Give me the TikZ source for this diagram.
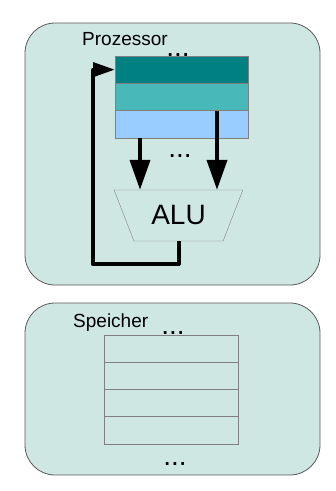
\documentclass[tikz,border=0pt]{standalone}
\usepackage{fontspec}
\setmainfont{Liberation Sans}
\usetikzlibrary{positioning,shapes.geometric,arrows.meta}
\definecolor{boxbg}{HTML}{CFE7E3}
\definecolor{regA}{HTML}{008080}
\definecolor{regB}{HTML}{48B8B8}
\definecolor{regC}{HTML}{99CCFF}
\begin{document}
\begin{tikzpicture}[x=1pt,y=-1pt,
		unit/.style={draw=gray!70!black, fill=boxbg, rounded corners=30pt, line width=0.8pt},
		cell/.style={draw=gray, minimum width=133pt, minimum height=27.3pt, inner sep=0pt, outer sep=0pt, line width=0.8pt},
		flow/.style={line width=4pt, line join=round, -{Triangle[length=30pt,width=20pt]}},
		back/.style={line width=4pt, line join=round, -{Triangle[length=22pt,width=14pt]}},
		lbl/.style={font=\fontsize{19}{22}\selectfont, inner sep=0pt},
		dots/.style={font=\fontsize{28}{30}\selectfont, inner sep=0pt}]
	\useasboundingbox (0,0) rectangle (336,491);
	\draw[unit] (25,23) rectangle (320,285);
	\draw[unit] (25,303) rectangle (320,475);
	\node[lbl, anchor=base west] (proc) at (82,45) {Prozessor};
	\node[lbl, anchor=base west] (mem) at (73,327) {Speicher};
	\node[dots, anchor=base] (pdots) at (178,56) {...};
	\node[cell, fill=regA, anchor=north west] (reg1) at (115,56) {};
	\node[cell, fill=regB, below=0pt of reg1] (reg2) {};
	\node[cell, fill=regC, below=0pt of reg2] (reg3) {};
	\node[dots] (rdots) at (180,156) {...};
	\node[draw=gray, fill=boxbg, trapezium, shape border rotate=180, trapezium angle=58.3,
		minimum width=129pt, minimum height=51pt, trapezium stretches=true, inner sep=0pt,
		font=\fontsize{28}{30}\selectfont] (alu) at (178.5,215.5) {ALU};
	\draw[flow] ([xshift=25pt]reg3.south west) -- ([xshift=25pt]reg3.south west |- alu.north);
	\draw[flow] ([xshift=-31pt]reg2.south east) -- ([xshift=-31pt]reg2.south east |- alu.north);
	\draw[back] (alu.south) -- ++(0,23) -| ([xshift=-22pt]reg1.west) -- (reg1.west);
	\foreach \i in {1,...,4}
		\node[cell, fill=boxbg, minimum width=134pt, anchor=north west] (mem\i) at (104,{335+27.25*(\i-1)}) {};
	\node[dots, anchor=base] (mdots) at (173,334.5) {...};
	\node[dots] (bdots) at (175,464) {...};
\end{tikzpicture}
\end{document}
